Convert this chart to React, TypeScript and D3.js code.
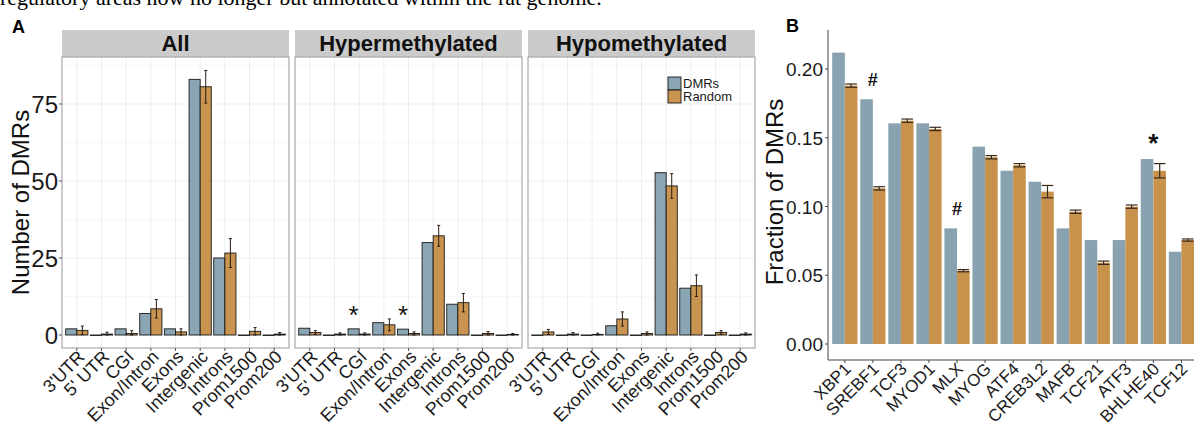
import React, { Component } from "react";
import * as d3 from "d3";

// panel A: genomic regions, three facets
const facets = ["All", "Hypermethylated", "Hypomethylated"];
const regions = ["3'UTR", "5' UTR", "CGI", "Exon/Intron", "Exons", "Intergenic", "Introns", "Prom1500", "Prom200"];

const allDmr = [2, 0, 2, 7, 2, 83, 25, 0, 0];
const allRandom = [1.5, 0.3, 0.5, 8.5, 1, 80.6, 26.6, 1.2, 0.3];
const allErr = [1.4, 0.6, 0.9, 3, 1, 5.3, 4.7, 1.2, 0.5];

const hyperDmr = [2.2, 0, 2, 4, 1.9, 30, 10, 0, 0];
const hyperRandom = [0.8, 0.3, 0.3, 3.3, 0.5, 32.2, 10.5, 0.5, 0.2];
const hyperErr = [0.6, 0.4, 0.4, 1.9, 0.5, 3.4, 3, 0.6, 0.3];

const hypoDmr = [0, 0, 0, 3, 0, 52.7, 15.2, 0, 0];
const hypoRandom = [1, 0.3, 0.2, 5.2, 0.5, 48.4, 16, 0.8, 0.3];
const hypoErr = [0.8, 0.5, 0.4, 2.3, 0.5, 4, 3.5, 0.6, 0.4];

const hyperStars = ["", "", "*", "", "*", "", "", "", ""];
const yTicksA = [0, 25, 50, 75];
const yMinorA = [12.5, 37.5, 62.5, 87.5];
const seriesNames = ["DMRs", "Random"];

// panel B: transcription factors
const tfs = ["XBP1", "SREBF1", "TCF3", "MYOD1", "MLX", "MYOG", "ATF4", "CREB3L2", "MAFB", "TCF21", "ATF3", "BHLHE40", "TCF12"];
const tfDmr = [0.2119, 0.178, 0.1605, 0.1605, 0.0841, 0.1435, 0.126, 0.118, 0.0841, 0.0756, 0.0756, 0.1345, 0.0671];
const tfRandom = [0.1879, 0.1132, 0.1624, 0.1564, 0.0533, 0.1358, 0.130, 0.1108, 0.0962, 0.0591, 0.0999, 0.126, 0.0756];
const tfErr = [0.0012, 0.0012, 0.0012, 0.0012, 0.0008, 0.0012, 0.0012, 0.0045, 0.0012, 0.0012, 0.0012, 0.0052, 0.0008];
const tfMarks = ["", "#", "", "", "#", "", "", "", "", "", "", "*", ""];
const yTicksB = [0, 0.05, 0.1, 0.15, 0.2];

const blue = "#8aa5b4";
const orange = "#c8944f";
const blueB = "#88a2b0";
const orangeB = "#c8924c";
const font = "'Liberation Sans', Arial, sans-serif";

class App extends Component {
    svgRef = React.createRef<SVGSVGElement>();

    componentDidMount() {
        this.draw();
    }

    draw() {
        const svg = d3.select(this.svgRef.current);
        svg.selectAll("*").remove();

        // caption line cut off at the top of the figure
        svg.append("text")
            .attr("x", 0)
            .attr("y", 5)
            .attr("font-family", "'Liberation Serif', 'Times New Roman', serif")
            .attr("font-size", 22)
            .text("regulatory areas now no longer but annotated within the rat genome.");

        svg.append("text").attr("x", 12).attr("y", 33)
            .attr("font-family", font).attr("font-weight", "bold").attr("font-size", 18)
            .text("A");
        svg.append("text").attr("x", 786).attr("y", 32)
            .attr("font-family", font).attr("font-weight", "bold").attr("font-size", 18)
            .text("B");

        // ---------- panel A ----------
        const panelLefts = [62, 295, 528];
        const panelW = 227;
        const stripTop = 30;
        const panelTop = 57;
        const panelBottom = 348;

        const yA = d3.scaleLinear().domain([0, 75]).range([335, 104]);
        const xA = d3.scalePoint().domain(regions).range([0, panelW]).padding(0.6);
        const step = xA.step();
        const barW = step * 0.9 / 2;

        const facetData = [
            { dmr: allDmr, rnd: allRandom, err: allErr, stars: regions.map(() => "") },
            { dmr: hyperDmr, rnd: hyperRandom, err: hyperErr, stars: hyperStars },
            { dmr: hypoDmr, rnd: hypoRandom, err: hypoErr, stars: regions.map(() => "") }
        ];

        facets.forEach((name, fi) => {
            const g = svg.append("g").attr("transform", `translate(${panelLefts[fi]},0)`);
            const fd = facetData[fi];

            // strip
            g.append("rect")
                .attr("x", 0).attr("y", stripTop)
                .attr("width", panelW).attr("height", panelTop - stripTop)
                .attr("fill", "#cbcbcb");
            g.append("text")
                .attr("x", panelW / 2).attr("y", panelTop - 6)
                .attr("text-anchor", "middle")
                .attr("font-family", font).attr("font-weight", "bold").attr("font-size", 22)
                .attr("fill", "#111")
                .text(name);

            // grid
            g.selectAll(".minor")
                .data(yMinorA)
                .enter().append("line")
                .attr("x1", 0).attr("x2", panelW)
                .attr("y1", d => yA(d)).attr("y2", d => yA(d))
                .attr("stroke", "#f6f6f6").attr("stroke-width", 0.8);
            g.selectAll(".major-y")
                .data(yTicksA)
                .enter().append("line")
                .attr("x1", 0).attr("x2", panelW)
                .attr("y1", d => yA(d)).attr("y2", d => yA(d))
                .attr("stroke", "#eeeeee").attr("stroke-width", 1);
            g.selectAll(".major-x")
                .data(regions)
                .enter().append("line")
                .attr("x1", d => xA(d)).attr("x2", d => xA(d))
                .attr("y1", panelTop).attr("y2", panelBottom)
                .attr("stroke", "#eeeeee").attr("stroke-width", 1);

            // bars
            regions.forEach((r, i) => {
                const cx = xA(r) as number;
                g.append("rect")
                    .attr("x", cx - barW).attr("y", yA(fd.dmr[i]))
                    .attr("width", barW).attr("height", Math.max(0.5, yA(0) - yA(fd.dmr[i])))
                    .attr("fill", blue).attr("stroke", "#1a1a1a").attr("stroke-width", 0.9);
                g.append("rect")
                    .attr("x", cx).attr("y", yA(fd.rnd[i]))
                    .attr("width", barW).attr("height", Math.max(0.5, yA(0) - yA(fd.rnd[i])))
                    .attr("fill", orange).attr("stroke", "#1a1a1a").attr("stroke-width", 0.9);

                const ex = cx + barW / 2;
                const lo = yA(Math.max(0, fd.rnd[i] - fd.err[i]));
                const hi = yA(fd.rnd[i] + fd.err[i]);
                g.append("line").attr("x1", ex).attr("x2", ex).attr("y1", lo).attr("y2", hi)
                    .attr("stroke", "#2a1a10").attr("stroke-width", 1);
                g.append("line").attr("x1", ex - 1.5).attr("x2", ex + 1.5).attr("y1", lo).attr("y2", lo)
                    .attr("stroke", "#2a1a10").attr("stroke-width", 1);
                g.append("line").attr("x1", ex - 1.5).attr("x2", ex + 1.5).attr("y1", hi).attr("y2", hi)
                    .attr("stroke", "#2a1a10").attr("stroke-width", 1);

                if (fd.stars[i]) {
                    g.append("text")
                        .attr("x", cx - barW / 2).attr("y", yA(fd.dmr[i]) - 5)
                        .attr("text-anchor", "middle")
                        .attr("font-family", font).attr("font-size", 26)
                        .attr("fill", "#111")
                        .text(fd.stars[i]);
                }
            });

            // panel border
            g.append("rect")
                .attr("x", 0).attr("y", panelTop)
                .attr("width", panelW).attr("height", panelBottom - panelTop)
                .attr("fill", "none").attr("stroke", "#a8a8a8").attr("stroke-width", 1.2);

            // x ticks and labels
            g.selectAll(".xtick")
                .data(regions)
                .enter().append("line")
                .attr("x1", d => xA(d)).attr("x2", d => xA(d))
                .attr("y1", panelBottom).attr("y2", panelBottom + 3)
                .attr("stroke", "#555");
            g.selectAll(".xlab")
                .data(regions)
                .enter().append("text")
                .attr("transform", d => `translate(${(xA(d) as number) + 9},${panelBottom + 10}) rotate(-45)`)
                .attr("text-anchor", "end")
                .attr("font-family", font).attr("font-size", 18)
                .attr("fill", "#1a1a1a")
                .text(d => d);

            if (fi === 0) {
                g.selectAll(".ytick")
                    .data(yTicksA)
                    .enter().append("line")
                    .attr("x1", -3).attr("x2", 0)
                    .attr("y1", d => yA(d)).attr("y2", d => yA(d))
                    .attr("stroke", "#555");
                g.selectAll(".ylab")
                    .data(yTicksA)
                    .enter().append("text")
                    .attr("x", -4).attr("y", d => yA(d) + 8.5)
                    .attr("text-anchor", "end")
                    .attr("font-family", font).attr("font-size", 24)
                    .attr("fill", "#1a1a1a")
                    .text(d => d);
            }

            if (fi === 2) {
                const legend = g.append("g").attr("transform", `translate(${140},${77})`);
                [blue, orange].forEach((c, k) => {
                    legend.append("rect")
                        .attr("x", 0).attr("y", k * 13)
                        .attr("width", 13).attr("height", 13)
                        .attr("fill", c).attr("stroke", "#1a1a1a").attr("stroke-width", 0.9);
                    legend.append("text")
                        .attr("x", 15).attr("y", k * 13 + 11)
                        .attr("font-family", font).attr("font-size", 13)
                        .attr("fill", "#1a1a1a")
                        .text(seriesNames[k]);
                });
            }
        });

        svg.append("text")
            .attr("transform", `translate(${29},${(panelTop + panelBottom) / 2}) rotate(-90)`)
            .attr("text-anchor", "middle")
            .attr("font-family", font).attr("font-size", 24)
            .attr("fill", "#111")
            .text("Number of DMRs");

        // ---------- panel B ----------
        const axisX = 828;
        const axisY = 360;
        const bTop = 30;
        const yB = d3.scaleLinear().domain([0, 0.2]).range([344, 69]);
        const xB = d3.scalePoint().domain(tfs).range([axisX, axisX + 13.2 * 28.05]).padding(0.6);
        const bw = xB.step() * 0.9 / 2;

        const gb = svg.append("g");
        tfs.forEach((t, i) => {
            const cx = xB(t) as number;
            gb.append("rect")
                .attr("x", cx - bw).attr("y", yB(tfDmr[i]))
                .attr("width", bw).attr("height", yB(0) - yB(tfDmr[i]))
                .attr("fill", blueB);
            gb.append("rect")
                .attr("x", cx).attr("y", yB(tfRandom[i]))
                .attr("width", bw).attr("height", yB(0) - yB(tfRandom[i]))
                .attr("fill", orangeB);

            const ex = cx + bw / 2;
            const lo = yB(tfRandom[i] - tfErr[i]);
            const hi = yB(tfRandom[i] + tfErr[i]);
            gb.append("line").attr("x1", ex).attr("x2", ex).attr("y1", lo).attr("y2", hi)
                .attr("stroke", "#3a2a1a").attr("stroke-width", 1.2);
            [lo, hi].forEach(yy => {
                gb.append("line").attr("x1", ex - bw / 2 + 0.5).attr("x2", ex + bw / 2 - 0.5)
                    .attr("y1", yy).attr("y2", yy)
                    .attr("stroke", "#3a2a1a").attr("stroke-width", 1.2);
            });

            if (tfMarks[i]) {
                gb.append("text")
                    .attr("x", cx).attr("y", yB(Math.max(tfDmr[i], tfRandom[i] + tfErr[i])) - 20)
                    .attr("text-anchor", "middle")
                    .attr("font-family", font).attr("font-size", tfMarks[i] === "*" ? 26 : 18)
                    .attr("font-weight", "bold")
                    .attr("fill", "#111")
                    .attr("dy", tfMarks[i] === "*" ? "0.5em" : "0.35em")
                    .text(tfMarks[i]);
            }
        });

        gb.append("line").attr("x1", axisX).attr("x2", axisX).attr("y1", bTop).attr("y2", axisY)
            .attr("stroke", "#444").attr("stroke-width", 1);
        gb.append("line").attr("x1", axisX).attr("x2", 1194).attr("y1", axisY).attr("y2", axisY)
            .attr("stroke", "#444").attr("stroke-width", 1);

        gb.selectAll(".btick")
            .data(yTicksB)
            .enter().append("line")
            .attr("x1", axisX - 3).attr("x2", axisX)
            .attr("y1", d => yB(d)).attr("y2", d => yB(d))
            .attr("stroke", "#444");
        gb.selectAll(".blab")
            .data(yTicksB)
            .enter().append("text")
            .attr("x", axisX - 5).attr("y", d => yB(d) + 7)
            .attr("text-anchor", "end")
            .attr("font-family", font).attr("font-size", 19)
            .attr("fill", "#1a1a1a")
            .text(d => d3.format(".2f")(d));

        gb.selectAll(".bxtick")
            .data(tfs)
            .enter().append("line")
            .attr("x1", d => xB(d)).attr("x2", d => xB(d))
            .attr("y1", axisY).attr("y2", axisY + 3)
            .attr("stroke", "#444");
        gb.selectAll(".bxlab")
            .data(tfs)
            .enter().append("text")
            .attr("transform", d => `translate(${(xB(d) as number) + 7},${axisY + 10}) rotate(-45)`)
            .attr("text-anchor", "end")
            .attr("font-family", font).attr("font-size", 17)
            .attr("fill", "#1a1a1a")
            .text(d => d);

        svg.append("text")
            .attr("transform", `translate(${783},${192}) rotate(-90)`)
            .attr("text-anchor", "middle")
            .attr("font-family", font).attr("font-size", 24)
            .attr("fill", "#111")
            .text("Fraction of DMRs");
    }

    render() {
        return (
            <svg
                ref={this.svgRef}
                width={1194}
                height={430}
                style={{ position: "absolute", left: 0, top: 0, background: "#fff" }}
            ></svg>
        );
    }
}

export default App;
